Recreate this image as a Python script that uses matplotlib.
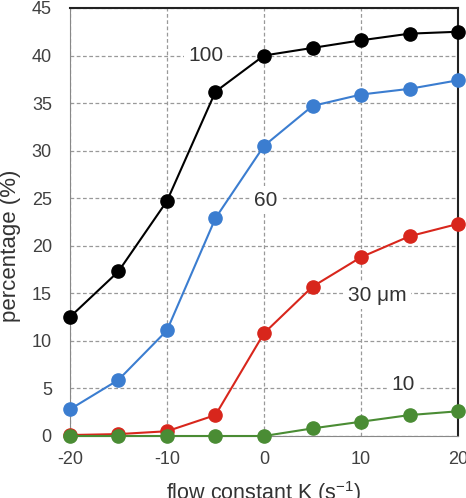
import matplotlib
matplotlib.use("Agg")
import matplotlib.pyplot as plt

K = [-20, -15, -10, -5, 0, 5, 10, 15, 20]
s100 = [12.5, 17.3, 24.7, 36.2, 40.0, 40.8, 41.6, 42.3, 42.5]
s60 = [2.8, 5.9, 11.1, 22.9, 30.5, 34.7, 35.9, 36.5, 37.4]
s30 = [0.1, 0.2, 0.5, 2.2, 10.8, 15.7, 18.8, 21.0, 22.3]
s10 = [0.0, 0.0, 0.0, 0.0, 0.0, 0.8, 1.5, 2.2, 2.6]
labels = ["100", "60", "30 μm", "10"]
label_pos = [(-6.0, 40.0), (0.2, 24.8), (11.7, 14.8), (14.3, 5.4)]
colors = ["#000000", "#3b7dd0", "#d8261c", "#4a8c34"]
xticks = [-20, -10, 0, 10, 20]
yticks = list(range(0, 50, 5))

plt.rcParams['font.family'] = ['Liberation Sans', 'DejaVu Sans']
plt.rcParams['axes.unicode_minus'] = False

fig = plt.figure(figsize=(4.66, 4.98), dpi=100)
ax = fig.add_axes([0.150, 0.1245, 0.833, 0.8595])

for ys, c in zip([s100, s60, s30, s10], colors):
    ax.plot(K, ys, color=c, lw=1.5, marker='o', ms=9.5, mfc=c, mec=c, zorder=3, clip_on=False)

for (lx, ly), t in zip(label_pos, labels):
    ax.text(lx, ly, t, fontsize=15, color='#333333', ha='center', va='center',
            bbox=dict(facecolor='white', edgecolor='none', pad=3), zorder=2)

ax.set_xlim(-20, 20)
ax.set_ylim(0, 45)
ax.set_xticks(xticks)
ax.set_yticks(yticks)
ax.grid(True, color='#999999', linestyle=(0, (3, 2)), lw=0.9, zorder=0)
ax.set_axisbelow(True)
ax.tick_params(axis='both', length=0, labelsize=13, labelcolor='#404040')
ax.tick_params(axis='x', pad=11)
ax.tick_params(axis='y', pad=13)

ax.spines['top'].set_color('#222222')
ax.spines['right'].set_color('#222222')
ax.spines['top'].set_linewidth(1.5)
ax.spines['right'].set_linewidth(1.5)
ax.spines['left'].set_color('#888888')
ax.spines['bottom'].set_color('#888888')

ax.set_xlabel("flow constant K (s$^{\\mathregular{-1}}$)", fontsize=15.5, color='#333333', labelpad=8)
ax.set_ylabel("percentage (%)", fontsize=16, color='#333333')
ax.yaxis.set_label_coords(-0.125, 0.444)

fig.savefig("out.png", dpi=100)
